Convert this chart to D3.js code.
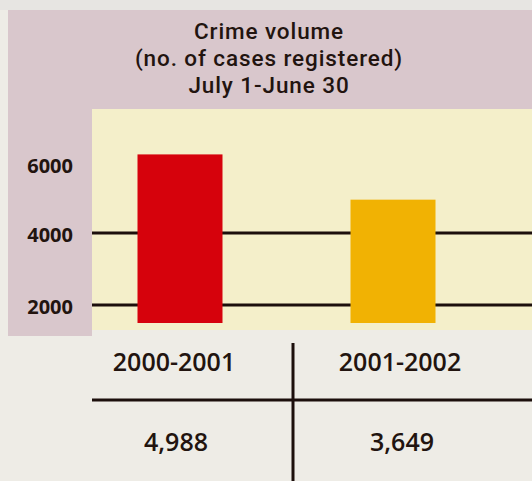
<!DOCTYPE html>
<html>
<head>
<meta charset="utf-8">
<script src="https://cdn.jsdelivr.net/npm/d3@7"></script>
<style>
  html, body { margin: 0; padding: 0; background: #eeece6; }
  svg { display: block; }
</style>
</head>
<body>
<svg id="crime-volume" width="532" height="481"></svg>
<script>
var periods = ['2000-2001', '2001-2002']
var cases = [4988, 3649]
var caseLabels = ['4,988', '3,649']
var tickValues = [2000, 4000, 6000]
var gridValues = [2000, 4000]
var titleLines = ['Crime volume', '(no. of cases registered)', 'July 1-June 30']

var svg = d3.select('#crime-volume'),
  width = +svg.attr('width'),
  height = +svg.attr('height')

var colors = {
  page: '#eeece6',
  strip: '#e7e5e2',
  pink: '#d9c7cc',
  panel: '#f4efca',
  ink: '#22140f',
  line: '#1c0f0c',
  bars: ['#d6020c', '#f1b203'],
}

var panel = { left: 92, top: 109, right: width, bottom: 330 }

// backgrounds
svg.append('rect').attr('width', width).attr('height', height).attr('fill', colors.page)
svg.append('rect').attr('width', width).attr('height', 10).attr('fill', colors.strip)
svg.append('rect')
  .attr('x', 8).attr('y', 10)
  .attr('width', width - 8).attr('height', panel.top - 10)
  .attr('fill', colors.pink)
svg.append('rect')
  .attr('x', 8).attr('y', panel.top)
  .attr('width', panel.left - 8).attr('height', 336 - panel.top)
  .attr('fill', colors.pink)
svg.append('rect')
  .attr('x', panel.left).attr('y', panel.top)
  .attr('width', panel.right - panel.left).attr('height', panel.bottom - panel.top)
  .attr('fill', colors.panel)

// title, one line per text
svg.append('g')
  .selectAll('text')
  .data(titleLines)
  .enter()
  .append('text')
  .attr('x', 269)
  .attr('y', function (d, i) { return 39 + i * 27 })
  .attr('text-anchor', 'middle')
  .attr('font-family', 'Roboto, sans-serif')
  .attr('font-weight', 500)
  .attr('font-size', 22.5)
  .attr('letter-spacing', 0.9)
  .attr('fill', colors.ink)
  .text(function (d) { return d })

// scales: tick labels and gridlines use their own scale, bars are scaled by value
var y = d3.scaleLinear().domain([2000, 4000]).range([305, 233])
var yBar = d3.scaleLinear().domain([0, 5000]).range([323, 154])
var x = d3.scalePoint().domain(periods).range([180, 393])
var xCol = d3.scalePoint().domain(periods).range([174, 400])
var barWidth = 85

// gridlines
svg.append('g')
  .selectAll('line')
  .data(gridValues)
  .enter()
  .append('line')
  .attr('x1', panel.left)
  .attr('x2', panel.right)
  .attr('y1', function (d) { return y(d) })
  .attr('y2', function (d) { return y(d) })
  .attr('stroke', colors.line)
  .attr('stroke-width', 3)

// y axis labels
var axis = d3.axisLeft(y)
  .tickValues(tickValues)
  .tickFormat(d3.format('d'))
  .tickSize(0)
  .tickPadding(0)
var gAxis = svg.append('g')
  .attr('transform', 'translate(73,0)')
  .call(axis)
gAxis.select('.domain').remove()
gAxis.selectAll('text')
  .attr('font-family', "'Noto Sans', sans-serif")
  .attr('font-weight', 700)
  .attr('font-size', 20)
  .attr('fill', colors.ink)
  .attr('dy', '0.36em')
  .attr('transform', function (d) { return d === 6000 ? 'translate(0,4)' : 'translate(0,1)' })

// bars
svg.append('g')
  .selectAll('rect')
  .data(cases)
  .enter()
  .append('rect')
  .attr('x', function (d, i) { return x(periods[i]) - barWidth / 2 })
  .attr('y', function (d) { return yBar(d) })
  .attr('width', barWidth)
  .attr('height', function (d) { return yBar(0) - yBar(d) })
  .attr('fill', function (d, i) { return colors.bars[i] })

// table below the chart
svg.append('line')
  .attr('x1', panel.left).attr('x2', width)
  .attr('y1', 400).attr('y2', 400)
  .attr('stroke', colors.line).attr('stroke-width', 3)
svg.append('line')
  .attr('x1', 293).attr('x2', 293)
  .attr('y1', 343).attr('y2', height)
  .attr('stroke', colors.line).attr('stroke-width', 3)

svg.append('g')
  .selectAll('text')
  .data(periods)
  .enter()
  .append('text')
  .attr('x', function (d) { return xCol(d) })
  .attr('y', 371)
  .attr('text-anchor', 'middle')
  .attr('font-family', "'Open Sans', sans-serif")
  .attr('font-weight', 600)
  .attr('font-size', 25)
  .attr('fill', colors.ink)
  .text(function (d) { return d })

svg.append('g')
  .selectAll('text')
  .data(caseLabels)
  .enter()
  .append('text')
  .attr('x', function (d, i) { return xCol(periods[i]) + 2 })
  .attr('y', 451)
  .attr('text-anchor', 'middle')
  .attr('font-family', "'Open Sans', sans-serif")
  .attr('font-weight', 600)
  .attr('font-size', 25)
  .attr('fill', colors.ink)
  .text(function (d) { return d })
</script>
</body>
</html>
